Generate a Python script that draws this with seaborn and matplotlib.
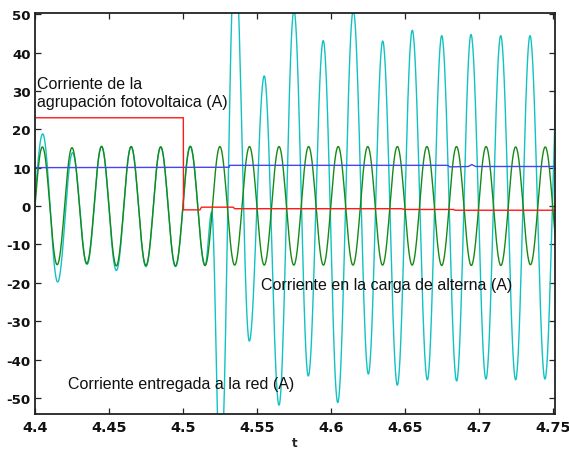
import numpy as np
import pandas as pd
import matplotlib
matplotlib.use("Agg")
import matplotlib.pyplot as plt
import seaborn as sns

# ---------------- data ----------------
# Load current (green): extrema times and values
load_t = [4.395, 4.405, 4.415, 4.425, 4.435, 4.445, 4.455, 4.465, 4.475, 4.485,
          4.495, 4.505, 4.515, 4.525, 4.535, 4.545, 4.555, 4.565, 4.575, 4.585,
          4.595, 4.605, 4.615, 4.625, 4.635, 4.645, 4.655, 4.665, 4.675, 4.685,
          4.695, 4.705, 4.715, 4.725, 4.735, 4.745, 4.755]
load_v = [-15.4, 15.4, -15.3, 15.2, -15.0, 15.5, -15.6, 15.5, -15.5, 15.4,
          -15.6, 15.5, -15.5, 15.5, -15.4, 15.5, -15.4, 15.5, -15.4, 15.5,
          -15.4, 15.5, -15.4, 15.5, -15.4, 15.5, -15.4, 15.5, -15.5, 15.5,
          -15.5, 15.5, -15.5, 15.4, -15.3, 15.4, -15.3]

# Grid current (cyan): extrema times and values
grid_t = [4.3950, 4.4052, 4.4153, 4.4254, 4.4352, 4.4450, 4.4550, 4.4650, 4.4750,
          4.4850, 4.4950, 4.5050, 4.5150, 4.5195, 4.5253, 4.5352, 4.5449, 4.5550,
          4.5650, 4.5751, 4.5848, 4.5949, 4.6047, 4.6152, 4.6254, 4.6351, 4.6450,
          4.6551, 4.6653, 4.6750, 4.6851, 4.6948, 4.7049, 4.7149, 4.7250, 4.7347,
          4.7448, 4.7548]
grid_v = [-15.0, 18.8, -19.8, 13.9, -15.2, 15.6, -16.8, 15.5, -15.8,
          15.4, -15.8, 15.6, -15.5, -1.5, -72.5, 66.5, -35.2, 33.9,
          -51.9, 51.0, -44.3, 43.1, -51.2, 51.0, -43.8, 43.0, -46.7,
          45.8, -45.3, 44.4, -45.6, 44.7, -45.1, 44.4, -45.3, 44.4,
          -45.1, 44.5]

# DC link current (blue)
dc_t = [4.400, 4.5312, 4.5316, 4.6790, 4.6805, 4.6930, 4.6953, 4.6980, 4.7520]
dc_v = [10.0, 10.1, 10.6, 10.6, 10.2, 10.3, 10.8, 10.3, 10.3]

# PV array current (red)
pv_t = [4.400, 4.5003, 4.5004, 4.5116, 4.5125, 4.5340, 4.5350, 4.6480, 4.6500,
        4.6830, 4.6840, 4.7520]
pv_v = [23.0, 23.0, -1.0, -1.0, -0.3, -0.3, -0.7, -0.7, -0.9, -0.9, -1.1, -1.1]

x_ticks = [4.4, 4.45, 4.5, 4.55, 4.6, 4.65, 4.7, 4.75]
x_labels = ["4.4", "4.45", "4.5", "4.55", "4.6", "4.65", "4.7", "4.75"]
y_ticks = [-50, -40, -30, -20, -10, 0, 10, 20, 30, 40, 50]


def through_extrema(t_ext, v_ext, n=40):
    """Smooth waveform passing through the listed extrema (half-cosine shape)."""
    ts, vs = [], []
    for i in range(len(t_ext) - 1):
        f = np.linspace(0, 1, n, endpoint=False)
        ts.append(t_ext[i] + f * (t_ext[i + 1] - t_ext[i]))
        vs.append(v_ext[i] + (1 - np.cos(np.pi * f)) / 2 * (v_ext[i + 1] - v_ext[i]))
    ts.append([t_ext[-1]])
    vs.append([v_ext[-1]])
    return np.concatenate(ts), np.concatenate(vs)


gt, gv = through_extrema(grid_t, grid_v)
lt, lv = through_extrema(load_t, load_v)
df_grid = pd.DataFrame({"t": gt, "i": gv})
df_load = pd.DataFrame({"t": lt, "i": lv})
df_dc = pd.DataFrame({"t": dc_t, "i": dc_v})
df_pv = pd.DataFrame({"t": pv_t, "i": pv_v})

# ---------------- figure ----------------
sns.set_theme(style="white")
plt.rcParams["font.family"] = ["Liberation Sans", "DejaVu Sans"]

fig = plt.figure(figsize=(5.69, 4.52), dpi=100)
ax = fig.add_axes([35 / 569, 1 - 415 / 452, 520 / 569, 401 / 452])

lw = 1.0
sns.lineplot(data=df_grid, x="t", y="i", estimator=None, sort=False,
             color="#12c2c2", lw=lw, ax=ax)
sns.lineplot(data=df_load, x="t", y="i", estimator=None, sort=False,
             color="#168a16", lw=lw, ax=ax)
sns.lineplot(data=df_dc, x="t", y="i", estimator=None, sort=False,
             color="#4646ee", lw=lw, ax=ax)
sns.lineplot(data=df_pv, x="t", y="i", estimator=None, sort=False,
             color="#ff1a1a", lw=lw, ax=ax)

ax.set_xlim(4.4, 4.7516)
ax.set_ylim(-54.2, 50.3)
ax.set_xticks(x_ticks)
ax.set_xticklabels(x_labels)
ax.set_yticks(y_ticks)
ax.set_yticklabels([str(v) for v in y_ticks])
for lab in ax.get_xticklabels():
    lab.set_fontfamily("DejaVu Sans")
    lab.set_fontweight("bold")
    lab.set_fontsize(10.4)
    lab.set_color("#111111")
for lab in ax.get_yticklabels():
    lab.set_fontfamily("DejaVu Sans")
    lab.set_fontweight("bold")
    lab.set_fontsize(9.6)
    lab.set_color("#111111")
ax.tick_params(direction="in", length=4, width=0.9, top=True, right=True,
               bottom=True, left=True, colors="#222222")
ax.tick_params(axis="x", pad=4)
ax.tick_params(axis="y", pad=3)
ax.tick_params(axis="both", labelcolor="#111111")
for s in ax.spines.values():
    s.set_visible(True)
    s.set_color("#222222")
    s.set_linewidth(1.3)

ax.set_xlabel("t", fontsize=8.5, fontweight="bold", fontfamily="DejaVu Sans",
              labelpad=2)
ax.set_ylabel("")

txt_kw = dict(fontsize=11.5, color="#111111", ha="left", va="baseline")
ax.text(4.4014, 30.8, "Corriente de la", **txt_kw)
ax.text(4.4014, 26.1, "agrupación fotovoltaica (A)", **txt_kw)
ax.text(4.5528, -21.5, "Corriente en la carga de alterna (A)", **txt_kw)
ax.text(4.4221, -47.3, "Corriente entregada a la red (A)", **txt_kw)

fig.savefig("out.png", dpi=100)
